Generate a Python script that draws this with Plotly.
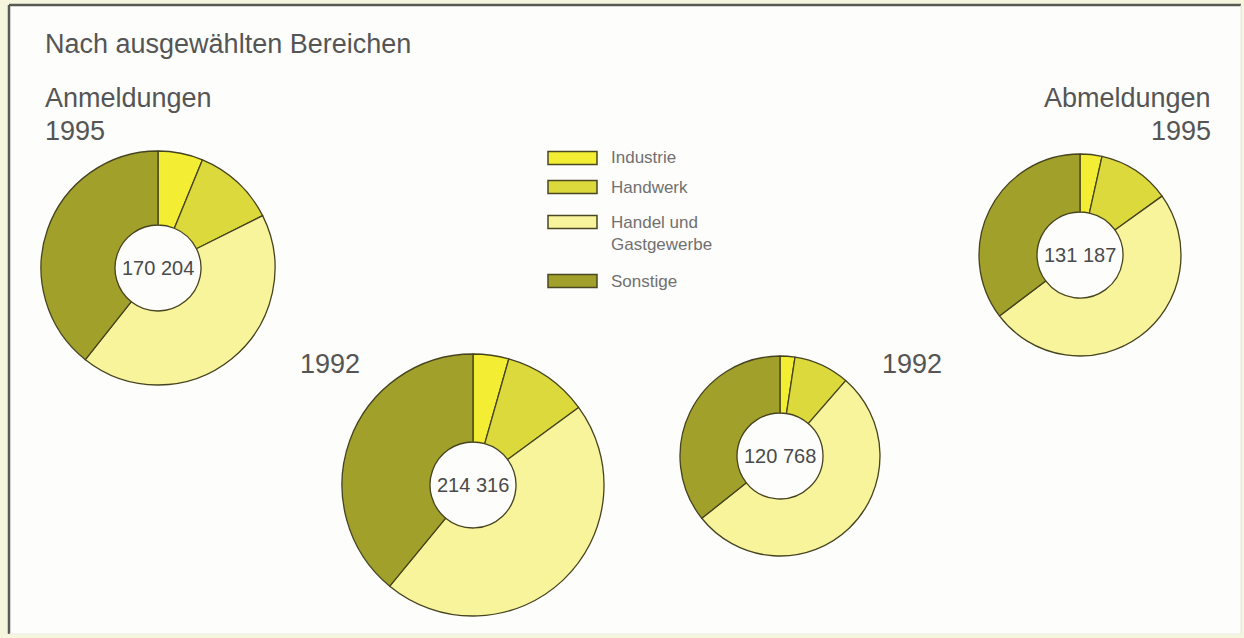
import plotly.graph_objects as go

W, H = 1244, 638

categories = ["Industrie", "Handwerk", "Handel und<br>Gastgewerbe", "Sonstige"]
colors = ["#f3ee33", "#dcd93c", "#f7f49c", "#a0a02b"]

# shares in percent
anm_1995 = [6.2, 11.4, 43.0, 39.3]
anm_1992 = [4.4, 10.5, 46.0, 39.0]
abm_1992 = [2.4, 9.0, 52.9, 35.7]
abm_1995 = [3.5, 11.6, 49.6, 35.3]

totals = ["170 204", "214 316", "120 768", "131 187"]
series = [anm_1995, anm_1992, abm_1992, abm_1995]

# geometry (pixels): center x, center y, outer radius
geom = [(158, 268, 117), (473, 485, 131), (780, 456, 100), (1080, 255, 101)]
hole_px = 43

def px(x):
    return x / W

def py(y):
    return 1 - y / H

FONT = "Liberation Sans, Arial, sans-serif"

fig = go.Figure()
for vals, (cx, cy, r) in zip(series, geom):
    fig.add_trace(go.Pie(
        labels=categories, values=vals, sort=False, direction="clockwise",
        rotation=0, hole=hole_px / r,
        marker=dict(colors=colors, line=dict(color="#46431f", width=1.3)),
        textinfo="none", hoverinfo="label+percent", showlegend=False,
        domain=dict(x=[px(cx - r), px(cx + r)], y=[py(cy + r), py(cy - r)]),
    ))

annotations = []
for t, (cx, cy, r) in zip(totals, geom):
    annotations.append(dict(x=px(cx), y=py(cy), xref="paper", yref="paper",
                            text=t, showarrow=False, xanchor="center",
                            yanchor="middle",
                            font=dict(size=20, color="#4a4a4a", family=FONT)))

big = dict(size=27, color="#555555", family=FONT)
texts = [
    ("Nach ausgewählten Bereichen", 43, 44, "left"),
    ("Anmeldungen", 43, 98, "left"),
    ("1995", 43, 131, "left"),
    ("Abmeldungen", 1213, 98, "right"),
    ("1995", 1213, 131, "right"),
    ("1992", 298, 364, "left"),
    ("1992", 880, 364, "left"),
]
for t, x, y, anc in texts:
    annotations.append(dict(x=px(x), y=py(y), xref="paper", yref="paper",
                            text=t, showarrow=False, xanchor=anc,
                            yanchor="middle", font=big))

shapes = []
# background frame
shapes.append(dict(type="rect", xref="paper", yref="paper",
                   x0=px(9), x1=px(1241), y0=py(634), y1=py(5),
                   fillcolor="#fdfdfb", line=dict(width=0), layer="below"))
shapes.append(dict(type="line", xref="paper", yref="paper",
                   x0=px(9), x1=px(1241), y0=py(5), y1=py(5),
                   line=dict(color="#5a5a55", width=2.5)))
shapes.append(dict(type="line", xref="paper", yref="paper",
                   x0=px(9), x1=px(9), y0=py(5), y1=py(634),
                   line=dict(color="#5a5a55", width=2.5)))
shapes.append(dict(type="line", xref="paper", yref="paper",
                   x0=px(1241), x1=px(1241), y0=py(5), y1=py(634),
                   line=dict(color="#e4e4dc", width=1)))
shapes.append(dict(type="line", xref="paper", yref="paper",
                   x0=px(9), x1=px(1241), y0=py(634), y1=py(634),
                   line=dict(color="#ebebe4", width=1)))

# legend
legend_y = [158, 187, 222, 281]
legend_text_y = [158, 187, 233, 281]
for cat, col, ly, ty in zip(categories, colors, legend_y, legend_text_y):
    shapes.append(dict(type="rect", xref="paper", yref="paper",
                       x0=px(548), x1=px(597), y0=py(ly + 6.5), y1=py(ly - 6.5),
                       fillcolor=col, line=dict(color="#4a4722", width=1.5)))
    annotations.append(dict(x=px(609), y=py(ty), xref="paper", yref="paper",
                            text=cat, showarrow=False, xanchor="left",
                            yanchor="middle", align="left",
                            font=dict(size=17, color="#707070", family=FONT)))

fig.update_layout(
    width=W, height=H, margin=dict(l=0, r=0, t=0, b=0),
    paper_bgcolor="#f6f6df", plot_bgcolor="#fdfdfb",
    annotations=annotations, shapes=shapes,
)
fig.write_html("out.html", config={"displayModeBar": False},
               post_script="document.body.style.margin='0';document.body.style.overflow='hidden';")
